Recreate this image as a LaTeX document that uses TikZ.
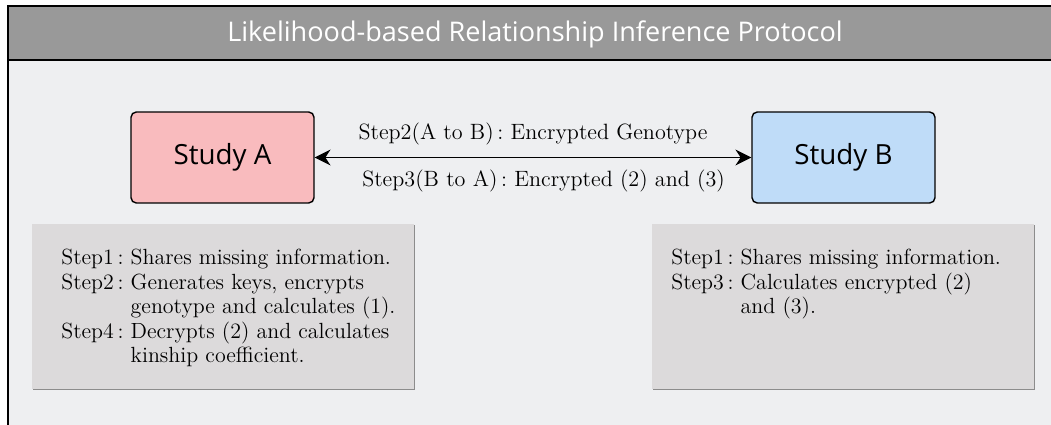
\documentclass[tikz,border=0pt]{standalone}
\usepackage{fontspec}
\newfontfamily\headfont{Open Sans}
\usetikzlibrary{shadows,arrows.meta}

\definecolor{headgray}{HTML}{999999}
\definecolor{panelbg}{HTML}{EEEFF1}
\definecolor{studyred}{HTML}{F9BBBE}
\definecolor{studyblue}{HTML}{BFDCF8}
\definecolor{notegray}{HTML}{DCDADB}

\tikzset{
	study/.style={draw=black, rounded corners=3pt, line width=0.8pt,
		minimum width=3.66cm, minimum height=1.82cm, font=\headfont\fontsize{15.8}{18}\selectfont},
	notebox/.style={fill=notegray, minimum width=7.64cm, minimum height=3.3cm,
		drop shadow={shadow xshift=0.6pt, shadow yshift=-0.6pt, fill=black!45, opacity=1}},
	notetext/.style={anchor=north west, inner sep=0pt, align=left,
		font=\fontsize{12.5}{14}\selectfont},
	steplabel/.style={font=\fontsize{12.6}{14}\selectfont}
}

\begin{document}
\begin{tikzpicture}[x=0.02cm,y=-0.02cm]
		\useasboundingbox (0,0) rectangle (1051,425);
		% frame and header
		\fill [panelbg] (8,60) rectangle (1060,440);
		\fill [headgray] (8,6) rectangle (1060,60);
		\draw [black, line width=1.1pt] (1060,6) -- (8,6) -- (8,440);
		\draw [black, line width=1.1pt] (8,60) -- (1060,60);
		\node (title) [text=white, font=\headfont\fontsize{15.4}{18}\selectfont] at (535,34) {Likelihood-based Relationship Inference Protocol};
		% the two studies
		\node (studyA) [study, fill=studyred] at (222.5,157.5) {Study A};
		\node (studyB) [study, fill=studyblue] at (843.5,157.5) {Study B};
		\draw [{Stealth[length=9pt,width=9pt]}-{Stealth[length=9pt,width=9pt]}, line width=1pt] (studyA) -- (studyB)
			node [midway, above=3pt, steplabel] {Step2(A to B)\,:\ Encrypted Genotype}
			node [midway, below=3pt, steplabel, xshift=6pt] {Step3(B to A)\,:\ Encrypted (2) and (3)};
		% notes under each study
		\node (noteA) [notebox] at (223,306.5) {};
		\node (noteB) [notebox] at (843,306.5) {};
		\node (textA) [notetext] at (61,247) {\begin{tabular}{@{}l@{\ }l@{}}
			Step1\,: & Shares missing information.\\
			Step2\,: & Generates keys, encrypts\\
			 & genotype and calculates (1).\\
			Step4\,: & Decrypts (2) and calculates\\
			 & kinship coefficient.
			\end{tabular}};
		\node (textB) [notetext] at (671,247) {\begin{tabular}{@{}l@{\ }l@{}}
			Step1\,: & Shares missing information.\\
			Step3\,: & Calculates encrypted (2)\\
			 & and (3).
			\end{tabular}};
\end{tikzpicture}
\end{document}
